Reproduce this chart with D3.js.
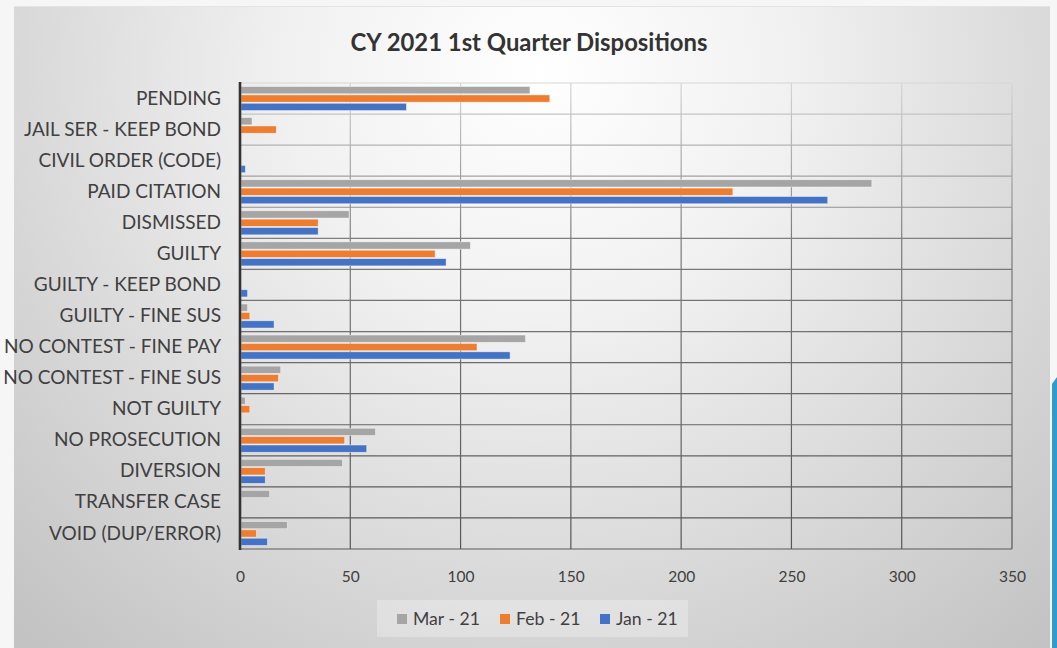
<!DOCTYPE html>
<html>
<head>
<meta charset="utf-8">
<script src="https://cdn.jsdelivr.net/npm/d3@7"></script>
<style>
html, body { margin: 0; padding: 0; background: #f6f6f6; overflow: hidden; }
</style>
</head>
<body>
<div id="chart"></div>
<script>
const categories = ['PENDING', 'JAIL SER - KEEP BOND', 'CIVIL ORDER (CODE)', 'PAID CITATION', 'DISMISSED', 'GUILTY', 'GUILTY - KEEP BOND', 'GUILTY - FINE SUS', 'NO CONTEST - FINE PAY', 'NO CONTEST - FINE SUS', 'NOT GUILTY', 'NO PROSECUTION', 'DIVERSION', 'TRANSFER CASE', 'VOID (DUP/ERROR)'];
const mar21 = [131, 5, 0, 286, 49, 104, 0, 3, 129, 18, 2, 61, 46, 13, 21];
const feb21 = [140, 16, 0, 223, 35, 88, 0, 4, 107, 17, 4, 47, 11, 0, 7];
const jan21 = [75, 0, 2, 266, 35, 93, 3, 15, 122, 15, 0, 57, 11, 0, 12];
const seriesNames = ['Mar - 21', 'Feb - 21', 'Jan - 21'];
const seriesColors = ['#a5a5a5', '#ed7d31', '#4472c4'];
const xTicks = [0, 50, 100, 150, 200, 250, 300, 350];
const title = 'CY 2021 1st Quarter Dispositions';

const W = 1057, H = 648;
const plotLeft = 240, plotRight = 1012, plotTop = 83, plotBottom = 549;
const font = 'Lato, "Open Sans", sans-serif';
const textColor = '#404040';

const series = [mar21, feb21, jan21];
const rows = categories.map((c, i) => ({ cat: c, vals: series.map((s, k) => ({ k: k, v: s[i] })) }));

const svg = d3.select('#chart').append('svg')
    .attr('width', W)
    .attr('height', H)
    .style('display', 'block');

const defs = svg.append('defs');

const bg = defs.append('radialGradient')
    .attr('id', 'bg')
    .attr('gradientUnits', 'userSpaceOnUse')
    .attr('cx', 540).attr('cy', 70).attr('r', 760);
bg.append('stop').attr('offset', 0).attr('stop-color', '#ffffff');
bg.append('stop').attr('offset', 0.33).attr('stop-color', '#f1f1f1');
bg.append('stop').attr('offset', 1).attr('stop-color', '#c3c3c3');

// grid lines get darker towards the bottom in the picture
const gridGrad = defs.append('linearGradient')
    .attr('id', 'grid')
    .attr('gradientUnits', 'userSpaceOnUse')
    .attr('x1', 0).attr('y1', plotTop).attr('x2', 0).attr('y2', plotBottom);
gridGrad.append('stop').attr('offset', 0).attr('stop-color', '#d6d6d6');
gridGrad.append('stop').attr('offset', 0.35).attr('stop-color', '#7a7a7a');
gridGrad.append('stop').attr('offset', 1).attr('stop-color', '#555555');

// panel
svg.append('rect')
    .attr('x', 14).attr('y', 6)
    .attr('width', 1036).attr('height', H - 6)
    .attr('fill', 'url(#bg)');
svg.append('line')
    .attr('x1', 14).attr('x2', 1050).attr('y1', 6.5).attr('y2', 6.5)
    .attr('stroke', '#e4e4e4');

// blue strip on the right edge
svg.append('path')
    .attr('d', `M1052,384 L1057,377 L1057,${H} L1052,${H} Z`)
    .attr('fill', '#2f9ccd');

const xScale = d3.scaleLinear().domain([0, 350]).range([plotLeft, plotRight]);
const yScale = d3.scaleBand().domain(categories).range([plotTop, plotBottom]);
const inner = d3.scaleBand().domain([0, 1, 2])
    .range([3.5, yScale.bandwidth() - 3.5])
    .paddingInner(0.13);

// vertical grid
svg.append('g')
    .selectAll('line')
    .data(xTicks.slice(1))
    .enter()
    .append('line')
    .attr('x1', d => xScale(d)).attr('x2', d => xScale(d))
    .attr('y1', plotTop).attr('y2', plotBottom)
    .attr('stroke', 'url(#grid)')
    .attr('stroke-width', 1.2);

// horizontal grid at category boundaries
const bounds = categories.map(c => yScale(c)).concat([plotBottom]);
svg.append('g')
    .selectAll('line')
    .data(bounds)
    .enter()
    .append('line')
    .attr('x1', plotLeft).attr('x2', plotRight)
    .attr('y1', d => d).attr('y2', d => d)
    .attr('stroke', d => d > plotTop + 440 ? '#5a5a5a' : 'url(#grid)')
    .attr('stroke-width', 1.2);

// bars
const groups = svg.append('g')
    .selectAll('g')
    .data(rows)
    .enter()
    .append('g')
    .attr('transform', d => `translate(0,${yScale(d.cat)})`);

groups.selectAll('rect')
    .data(d => d.vals.filter(o => o.v > 0))
    .enter()
    .append('rect')
    .attr('x', xScale(0) + 1)
    .attr('y', d => inner(d.k))
    .attr('width', d => xScale(d.v) - xScale(0))
    .attr('height', inner.bandwidth())
    .attr('fill', d => seriesColors[d.k])
    .attr('stroke', 'rgba(255,255,255,0.55)')
    .attr('stroke-width', 0.8);

// category axis line
svg.append('line')
    .attr('x1', plotLeft).attr('x2', plotLeft)
    .attr('y1', plotTop - 1).attr('y2', plotBottom + 1)
    .attr('stroke', '#333')
    .attr('stroke-width', 2.6);

// category labels
const yAxis = d3.axisLeft(yScale).tickSize(0).tickPadding(19);
const yAxisG = svg.append('g')
    .attr('transform', `translate(${plotLeft},0)`)
    .call(yAxis);
yAxisG.select('.domain').remove();
yAxisG.selectAll('text')
    .attr('fill', textColor)
    .style('font-family', font)
    .style('font-size', '15px');

// x tick labels
const xAxis = d3.axisBottom(xScale).tickValues(xTicks).tickSize(0).tickPadding(0);
const xAxisG = svg.append('g')
    .attr('transform', `translate(0,577)`)
    .call(xAxis);
xAxisG.select('.domain').remove();
xAxisG.selectAll('text')
    .attr('dy', '0.35em')
    .attr('fill', textColor)
    .style('font-family', font)
    .style('font-size', '15.5px');

// fit a text group to a target width
const fit = (sel, base, target) => {
    let w = 0;
    sel.each(function () { w = Math.max(w, this.getComputedTextLength()); });
    const fs = base * target / w;
    sel.style('font-size', fs + 'px');
    return fs;
};
fit(yAxisG.selectAll('text'), 15, 218);

// title
const titleText = svg.append('text')
    .attr('x', 529)
    .attr('y', 43)
    .attr('dy', '0.35em')
    .attr('text-anchor', 'middle')
    .attr('fill', '#333')
    .style('font-family', font)
    .style('font-weight', 'bold')
    .style('font-size', '18px')
    .text(title);
fit(titleText, 18, 357);

// legend
const legend = svg.append('g');
legend.append('rect')
    .attr('x', 377).attr('y', 600)
    .attr('width', 311).attr('height', 37)
    .attr('fill', 'rgba(255,255,255,0.28)');

const legendX = [397, 500, 600];
const items = legend.selectAll('g')
    .data(seriesNames)
    .enter()
    .append('g')
    .attr('transform', (d, i) => `translate(${legendX[i]},619)`);
items.append('rect')
    .attr('x', 0).attr('y', -5)
    .attr('width', 10).attr('height', 10)
    .attr('fill', (d, i) => seriesColors[i]);
const legendText = items.append('text')
    .attr('x', 16)
    .attr('dy', '0.35em')
    .attr('fill', textColor)
    .style('font-family', font)
    .style('font-size', '16px')
    .text(d => d);
fit(legendText, 16, 67);
</script>
</body>
</html>
